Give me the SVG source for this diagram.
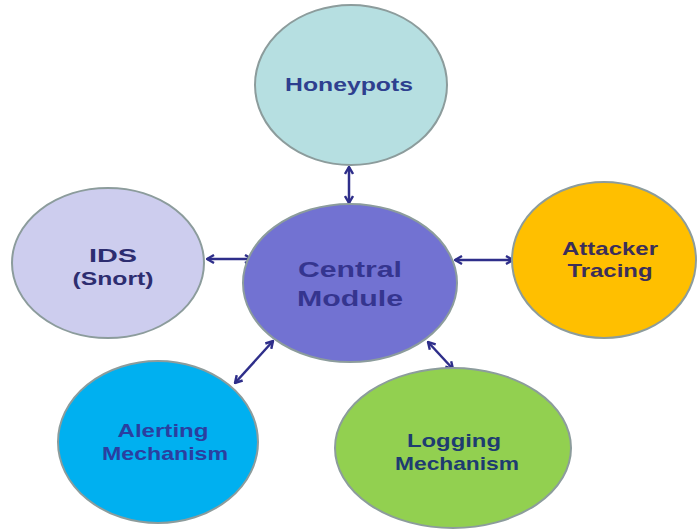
<svg xmlns="http://www.w3.org/2000/svg" width="697" height="529" viewBox="0 0 697 529">
<style>
.node{stroke:#8c9c9c;stroke-width:2}
.lbl{font-family:"Liberation Sans",Arial,sans-serif;font-weight:bold;font-size:19px;text-anchor:middle}
.big{font-size:22px}
.conn{stroke:#2e2e8a;stroke-width:2.5;fill:none;marker-start:url(#ah);marker-end:url(#ah)}
</style>
<defs>
<marker id="ah" viewBox="0 0 10 10" refX="9" refY="5" markerWidth="10" markerHeight="10" markerUnits="userSpaceOnUse" orient="auto-start-reverse">
<path d="M2,1 L9,5 L2,9" fill="none" stroke="#2e2e8a" stroke-width="2.4" stroke-linejoin="miter"/>
</marker>
</defs>
<rect width="697" height="529" fill="#ffffff"/>
<g id="connectors">
<line class="conn" x1="349" y1="167" x2="349" y2="203"/>
<line class="conn" x1="207" y1="259" x2="252" y2="259"/>
<line class="conn" x1="455" y1="260" x2="513" y2="260"/>
<line class="conn" x1="273" y1="341" x2="235" y2="383"/>
<line class="conn" x1="428" y1="342" x2="453" y2="369"/>
</g>
<g id="honeypots">
<ellipse class="node" cx="351" cy="85" rx="96" ry="80" fill="#b6dfe1"/>
<text class="lbl" x="349" y="91" fill="#2e3f8f" textLength="128" lengthAdjust="spacingAndGlyphs">Honeypots</text>
</g>
<g id="ids">
<ellipse class="node" cx="108" cy="263" rx="96" ry="75" fill="#cdcdee"/>
<text class="lbl" x="113" y="262" fill="#2d2d70" textLength="48" lengthAdjust="spacingAndGlyphs">IDS</text>
<text class="lbl" x="113" y="285" fill="#2d2d70" textLength="81" lengthAdjust="spacingAndGlyphs">(Snort)</text>
</g>
<g id="central">
<ellipse class="node" cx="350" cy="283" rx="107" ry="79" fill="#7272d2"/>
<text class="lbl big" x="350" y="277" fill="#35358f" textLength="104" lengthAdjust="spacingAndGlyphs">Central</text>
<text class="lbl big" x="350" y="306" fill="#35358f" textLength="106" lengthAdjust="spacingAndGlyphs">Module</text>
</g>
<g id="attacker">
<ellipse class="node" cx="604" cy="260" rx="92" ry="78" fill="#ffbf00"/>
<text class="lbl" x="610" y="255" fill="#3b2e5a" textLength="96" lengthAdjust="spacingAndGlyphs">Attacker</text>
<text class="lbl" x="610" y="277" fill="#3b2e5a" textLength="85" lengthAdjust="spacingAndGlyphs">Tracing</text>
</g>
<g id="alerting">
<ellipse class="node" cx="158" cy="442" rx="100" ry="81" fill="#00b0f0"/>
<text class="lbl" x="163" y="437" fill="#2a3fa0" textLength="91" lengthAdjust="spacingAndGlyphs">Alerting</text>
<text class="lbl" x="165" y="460" fill="#2a3fa0" textLength="126" lengthAdjust="spacingAndGlyphs">Mechanism</text>
</g>
<g id="logging">
<ellipse class="node" cx="453" cy="448" rx="118" ry="80" fill="#92d050"/>
<text class="lbl" x="454" y="447" fill="#1e3c70" textLength="94" lengthAdjust="spacingAndGlyphs">Logging</text>
<text class="lbl" x="457" y="470" fill="#1e3c70" textLength="124" lengthAdjust="spacingAndGlyphs">Mechanism</text>
</g>
</svg>
